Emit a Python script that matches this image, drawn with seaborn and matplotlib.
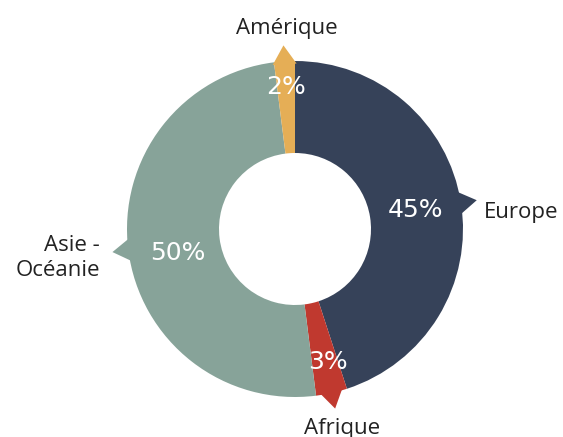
import numpy as np
import matplotlib.pyplot as plt
import seaborn as sns
from matplotlib.patches import Polygon

# data
regions = ['Europe', 'Afrique', 'Asie -\nOcéanie', 'Amérique']
shares = [45, 3, 50, 2]
colors = ['#364259', '#c0392f', '#87a399', '#e5ae56']

sns.set_theme(style='white')
plt.rcParams['font.family'] = ['Open Sans', 'DejaVu Sans']

fig = plt.figure(figsize=(5.63, 4.37), dpi=100)
ax = fig.add_axes([0, 0, 1, 1])

cx, cy = 295, 208
R, r_in = 168, 76

ax.pie(shares, colors=colors, startangle=90, counterclock=False,
       center=(cx, cy), radius=R, frame=True,
       wedgeprops=dict(width=R - r_in, linewidth=0))
ax.set_xlim(0, 563)
ax.set_ylim(0, 437)
ax.set_aspect('equal')
ax.axis('off')

# mid angle of each slice
total = sum(shares)
ends = 90 - 360 * np.cumsum(shares) / total
starts = ends + 360 * np.array(shares) / total
mids = (starts + ends) / 2

# text placement (radius, angle nudge)
pct_pos = [(122, 0), (137, 1.5), (120, 4.5), (142, 0)]
lab_pos = [(190, -4), (205, 0.7), (197, 1.3), (201, -1.3)]
aligns = ['left', 'center', 'right', 'center']

for i, a in enumerate(mids):
    t = np.deg2rad(a)
    # little pointer triangle
    half = 12
    nx, ny = -np.sin(t), np.cos(t)
    bx, by = cx + (R - 3) * np.cos(t), cy + (R - 3) * np.sin(t)
    tx, ty = cx + (R + 16) * np.cos(t), cy + (R + 16) * np.sin(t)
    tri = Polygon([(bx + half * nx, by + half * ny), (tx, ty),
                   (bx - half * nx, by - half * ny)],
                  closed=True, color=colors[i], lw=0)
    ax.add_patch(tri)

    pr, pa = pct_pos[i]
    tp = np.deg2rad(a + pa)
    ax.text(cx + pr * np.cos(tp), cy + pr * np.sin(tp),
            f'{shares[i]}%', color='white', fontsize=18,
            family=['DejaVu Sans'], ha='center', va='center')

    lr, la = lab_pos[i]
    tl = np.deg2rad(a + la)
    ax.text(cx + lr * np.cos(tl), cy + lr * np.sin(tl), regions[i],
            color='#222222', fontsize=16, ha=aligns[i], va='center',
            multialignment='right', linespacing=1.25)

fig.savefig('out.png', dpi=100)
